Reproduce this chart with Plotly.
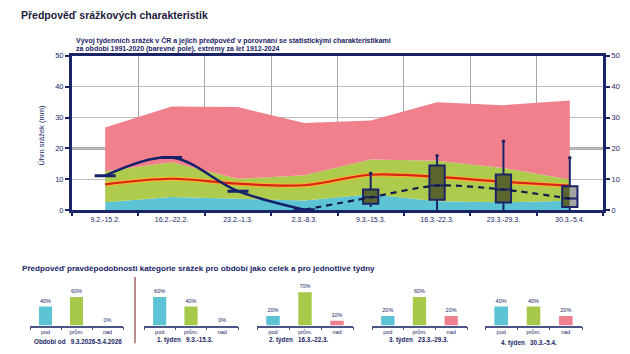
import plotly.graph_objects as go

# ---------------- data ----------------
cats = ['9.2.-15.2.', '16.2.-22.2.', '23.2.-1.3.', '2.3.-8.3.',
        '9.3.-15.3.', '16.3.-22.3.', '23.3.-29.3.', '30.3.-5.4.']
below_top = [2.6, 4.3, 3.7, 3.2, 5.2, 2.9, 2.6, 3.1]
normal_top = [12.6, 15.5, 10.2, 11.3, 16.4, 16.0, 13.7, 10.0]
max_vals = [26.8, 33.6, 33.4, 28.2, 29.0, 34.9, 34.0, 35.5]
mean_vals = [8.4, 10.2, 8.6, 8.1, 11.5, 10.8, 9.2, 8.0]

obs_cats = cats[0:4]
observed = [11.2, 17.1, 6.2, 0.2]

fc_cats = cats[3:]
forecast = [0.2, 4.2, 8.0, 6.7, 3.8]

box_cats = cats[4:]
box_q1 = [2.1, 3.4, 2.5, 1.1]
box_q3 = [6.7, 14.5, 11.6, 7.8]
box_low = [1.1, 0.0, 0.0, 0.0]
box_high = [12.0, 17.6, 22.3, 17.0]
box_med = forecast[1:]

prob_cats = ['pod', 'prům.', 'nad']
prob_values = [[40, 60, 0], [60, 40, 0], [20, 70, 10], [20, 60, 20], [40, 40, 20]]
prob_labels = ['Období od   9.3.2026-5.4.2026', '1. týden   9.3.-15.3.',
               '2. týden   16.3.-22.3.', '3. týden   23.3.-29.3.', '4. týden   30.3.-5.4.']

# ---------------- style ----------------
W, H = 630, 354
FONT = 'Liberation Sans, Arial, sans-serif'
NAVY = '#1a2466'
LINE_NAVY = '#16206b'
C_CYAN = '#5cc4d4'
C_GREEN = '#aecb4e'
C_PINK = '#ef808c'
BOX_OLIVE = '#5b662e'
BOX_GRAY = '#a4a4a4'
BAR_COLS = ['#5cc4d4', '#a8c84a', '#ef7f8c']
BOX_W = 0.23


def px_x(p):
    return p / W


def px_y(p):
    return 1 - p / H


fig = go.Figure()

# stacked climatology bands (base layer, y)
fig.add_trace(go.Scatter(x=cats, y=below_top, mode='lines', line=dict(width=0, color=C_CYAN),
                         fill='tozeroy', fillcolor=C_CYAN, hoverinfo='skip', showlegend=False))
fig.add_trace(go.Scatter(x=cats, y=normal_top, mode='lines', line=dict(width=0, color=C_GREEN),
                         fill='tonexty', fillcolor=C_GREEN, hoverinfo='skip', showlegend=False))
fig.add_trace(go.Scatter(x=cats, y=max_vals, mode='lines', line=dict(width=0, color=C_PINK),
                         fill='tonexty', fillcolor=C_PINK, hoverinfo='skip', showlegend=False))
# mean line (yellow rim + red core)
fig.add_trace(go.Scatter(x=cats, y=mean_vals, mode='lines', line=dict(width=4.5, color='#f2b632', shape='spline'),
                         hoverinfo='skip', showlegend=False))
fig.add_trace(go.Scatter(x=cats, y=mean_vals, mode='lines', line=dict(width=2.2, color='#d92518', shape='spline'),
                         hoverinfo='skip', showlegend=False))

# forecast boxes (overlay y2, drawn above the bands)
# last box: olive where it overlaps the bands (left half), gray over the white background (right half)
fig.add_trace(go.Bar(x=box_cats[3:], y=[box_q3[3] - box_q1[3]], base=box_q1[3:], yaxis='y2',
                     width=BOX_W / 2, offset=-BOX_W / 2, marker=dict(color=BOX_OLIVE, line=dict(width=0)),
                     hoverinfo='skip', showlegend=False))
fig.add_trace(go.Bar(x=box_cats[3:], y=[box_q3[3] - box_q1[3]], base=box_q1[3:], yaxis='y2',
                     width=BOX_W / 2, offset=0, marker=dict(color=BOX_GRAY, line=dict(width=0)),
                     hoverinfo='skip', showlegend=False))
fig.add_trace(go.Box(x=box_cats[:3], q1=box_q1[:3], median=box_med[:3], q3=box_q3[:3],
                     lowerfence=box_low[:3], upperfence=box_high[:3], yaxis='y2',
                     fillcolor=BOX_OLIVE, line=dict(color=NAVY, width=2), width=BOX_W,
                     whiskerwidth=0, showlegend=False, hoverinfo='skip'))
fig.add_trace(go.Box(x=box_cats[3:], q1=box_q1[3:], median=box_med[3:], q3=box_q3[3:],
                     lowerfence=box_low[3:], upperfence=box_high[3:], yaxis='y2',
                     fillcolor='rgba(0,0,0,0)', line=dict(color=NAVY, width=2), width=BOX_W,
                     whiskerwidth=0, showlegend=False, hoverinfo='skip'))

# lines (overlay y3, drawn above boxes)
fig.add_trace(go.Scatter(x=box_cats, y=box_high, mode='markers', yaxis='y3',
                         marker=dict(size=3.5, color=NAVY), hoverinfo='skip', showlegend=False))
fig.add_trace(go.Scatter(x=fc_cats, y=forecast, mode='lines', yaxis='y3',
                         line=dict(width=2.2, color='#111a4a', dash='6px,5px', shape='spline', smoothing=0.8),
                         hoverinfo='skip', showlegend=False))
fig.add_trace(go.Scatter(x=obs_cats, y=observed, mode='lines', yaxis='y3',
                         line=dict(width=2.5, color=LINE_NAVY, shape='spline', smoothing=1.0),
                         hoverinfo='skip', showlegend=False))
fig.add_trace(go.Scatter(x=obs_cats, y=observed, mode='markers', yaxis='y3',
                         marker=dict(symbol='line-ew-open', size=15, color=LINE_NAVY,
                                     line=dict(width=3, color=LINE_NAVY)),
                         hoverinfo='skip', showlegend=False))

# darker reference line at 20 mm, below everything
fig.add_shape(type='line', xref='x domain', yref='y', x0=0, x1=1, y0=20, y1=20,
              line=dict(color='#5a5a5a', width=2), layer='below')

main_dom_x = [px_x(72), px_x(603)]
main_dom_y = [px_y(211.7), px_y(53)]

layout = dict(
    width=W, height=H, autosize=False,
    margin=dict(l=0, r=0, t=0, b=0),
    paper_bgcolor='white', plot_bgcolor='white',
    font=dict(family=FONT, color=NAVY, size=8),
    showlegend=False, boxmode='overlay', barmode='overlay',
    xaxis=dict(domain=main_dom_x, type='category', categoryorder='array', categoryarray=cats,
               range=[-0.5, 7.5], tickson='boundaries', ticks='outside', ticklen=3, tickwidth=2,
               tickcolor=NAVY, showline=True, linecolor=NAVY, linewidth=3, mirror=True,
               showgrid=True, gridcolor='#a8a8a8', gridwidth=1,
               tickfont=dict(size=7, color=NAVY), anchor='y'),
    yaxis=dict(domain=main_dom_y, range=[0, 50], tickvals=[0, 10, 20, 30, 40, 50],
               ticks='outside', ticklen=4, tickcolor=NAVY, tickwidth=1.5,
               showline=True, linecolor=NAVY, linewidth=3, showgrid=True, gridcolor='#bdbdbd',
               zeroline=False, tickfont=dict(size=7.5, color=NAVY), anchor='x'),
    yaxis2=dict(overlaying='y', side='right', range=[0, 50], tickvals=[0, 10, 20, 30, 40, 50],
                ticks='outside', ticklen=4, tickcolor=NAVY, tickwidth=1.5,
                showline=True, linecolor=NAVY, linewidth=3, showgrid=False, zeroline=False,
                tickfont=dict(size=7.5, color=NAVY), anchor='x'),
    yaxis3=dict(overlaying='y', range=[0, 50], visible=False, showgrid=False, zeroline=False, anchor='x'),
)

# small probability bar charts
small_x = [(30, 123), (144, 238), (257, 353), (372, 467), (485, 582)]
cap_pos = [(32, 346), (155, 345), (267, 345), (387, 345), (499, 348)]
annotations = []
for i, vals in enumerate(prob_values):
    n = i + 4
    xa, ya = f'x{n}', f'y{n}'
    fig.add_trace(go.Bar(x=prob_cats, y=vals, xaxis=xa, yaxis=ya, marker=dict(color=BAR_COLS, line=dict(width=0)),
                         width=0.42, text=[f'{v}%' for v in vals], textposition='outside',
                         textfont=dict(size=5.5, color=NAVY), cliponaxis=False, constraintext='none',
                         hoverinfo='skip', showlegend=False))
    x0, x1 = small_x[i]
    layout[f'xaxis{n}'] = dict(domain=[px_x(x0), px_x(x1)], type='category', categoryorder='array',
                               categoryarray=prob_cats, range=[-0.5, 2.5], tickson='boundaries',
                               ticks='outside', ticklen=3, tickcolor='#4a5688', showline=True,
                               linecolor='#4a5688', linewidth=1.5, showgrid=False,
                               tickfont=dict(size=5.5, color=NAVY), anchor=ya, fixedrange=True)
    layout[f'yaxis{n}'] = dict(domain=[px_y(330), px_y(281)], range=[0, 100], visible=False,
                               anchor=xa, fixedrange=True)
    cx, cy = cap_pos[i]
    annotations.append(dict(xref='paper', yref='paper', x=px_x(cx), y=px_y(cy), xanchor='left', yanchor='middle',
                            text=f'<b>{prob_labels[i]}</b>', showarrow=False,
                            font=dict(size=6.3, color=NAVY, family=FONT)))

# titles
annotations += [
    dict(xref='paper', yref='paper', x=px_x(19), y=px_y(11), xanchor='left', yanchor='middle',
         text='<b>Předpověď srážkových charakteristik</b>', showarrow=False,
         font=dict(size=10.5, color='#1b1b3a', family=FONT)),
    dict(xref='paper', yref='paper', x=px_x(74), y=px_y(37.5), xanchor='left', yanchor='middle',
         text='<b>Vývoj týdenních srážek v ČR a jejich předpověď v porovnání se statistickými charakteristikami</b>',
         showarrow=False, font=dict(size=7.0, color=NAVY, family=FONT)),
    dict(xref='paper', yref='paper', x=px_x(74), y=px_y(45.7), xanchor='left', yanchor='middle',
         text='<b>za období 1991-2020 (barevné pole), extrémy za let 1912-2024</b>',
         showarrow=False, font=dict(size=7.0, color=NAVY, family=FONT)),
    dict(xref='paper', yref='paper', x=px_x(42), y=px_y(135), xanchor='center', yanchor='middle',
         text='Úhrn srážek (mm)', textangle=-90, showarrow=False,
         font=dict(size=7.5, color=NAVY, family=FONT)),
    dict(xref='paper', yref='paper', x=px_x(20), y=px_y(271), xanchor='left', yanchor='middle',
         text='<b>Předpověď pravděpodobnosti kategorie srážek pro období jako celek a pro jednotlivé týdny</b>',
         showarrow=False, font=dict(size=8.1, color=NAVY, family=FONT)),
]
layout['annotations'] = annotations
layout['shapes'] = list(fig.layout.shapes) + [
    dict(type='line', xref='paper', yref='paper', x0=px_x(135), x1=px_x(135), y0=px_y(280), y1=px_y(348),
         line=dict(color='#8a4040', width=1.2))
]

fig.update_layout(**layout)
fig.write_html('out.html')
